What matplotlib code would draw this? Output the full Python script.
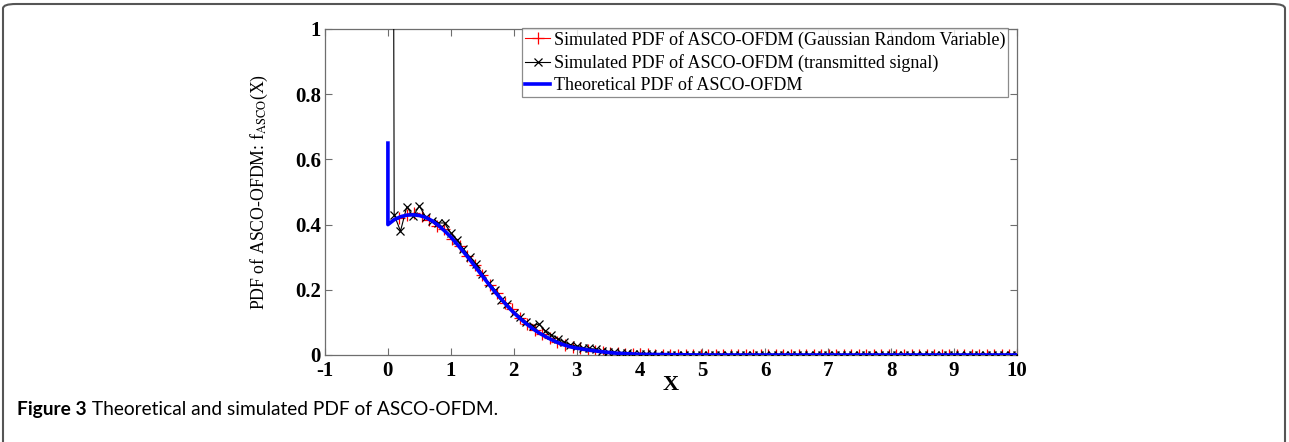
import numpy as np
import matplotlib
matplotlib.use("Agg")
import matplotlib.pyplot as plt
from matplotlib.patches import FancyBboxPatch

# ---------------- data ----------------
# Theoretical PDF (blue): spike at x=0 then continuous part
theo_x = [0.0, 0.0, 0.1, 0.2, 0.3, 0.4, 0.5, 0.6, 0.7, 0.8, 0.9, 1.0, 1.1, 1.2, 1.3,
          1.4, 1.5, 1.6, 1.7, 1.8, 1.9, 2.0, 2.1, 2.2, 2.3, 2.4, 2.5, 2.6, 2.7, 2.8,
          2.9, 3.0, 3.2, 3.4, 3.6, 3.8, 4.0, 4.5, 5.0, 10.0]
theo_y = [0.65, 0.400, 0.415, 0.424, 0.429, 0.430, 0.428, 0.422, 0.412, 0.398, 0.381,
          0.362, 0.340, 0.317, 0.293, 0.268, 0.243, 0.218, 0.194, 0.172, 0.150, 0.130,
          0.112, 0.096, 0.081, 0.068, 0.057, 0.047, 0.038, 0.031, 0.025, 0.021, 0.015,
          0.010, 0.006, 0.004, 0.002, 0.001, 0.0, 0.0]

# Simulated PDF, Gaussian random variable (red +), bin centres 0.18 .. 10.0
red_x = np.linspace(0.18, 10.0, 83)
red_y = [0.420, 0.430, 0.435, 0.425, 0.415, 0.395, 0.385, 0.355, 0.335,
         0.305, 0.275, 0.245, 0.215, 0.190, 0.160, 0.140, 0.115, 0.095, 0.078,
         0.064, 0.052, 0.041, 0.032, 0.026, 0.020, 0.016, 0.012, 0.009, 0.007,
         0.005, 0.004, 0.003, 0.002, 0.002, 0.001, 0.001, 0.001, 0.001, 0.0,
         0.0, 0.0, 0.0, 0.0, 0.0, 0.0, 0.0, 0.0, 0.0, 0.0,
         0.0, 0.0, 0.0, 0.0, 0.0, 0.0, 0.0, 0.0, 0.0, 0.0,
         0.0, 0.0, 0.0, 0.0, 0.0, 0.0, 0.0, 0.0, 0.0, 0.0,
         0.0, 0.0, 0.0, 0.0, 0.0, 0.0, 0.0, 0.0, 0.0, 0.0,
         0.0, 0.0, 0.0, 0.0]

# Simulated PDF, transmitted signal (black x): spike, then bins 0.1 .. 10.0
blk_spike_x = [0.085]
blk_spike_y = [1.6]
blk_x = np.linspace(0.1, 10.0, 100)
blk_y = [0.430, 0.380, 0.455, 0.426, 0.457, 0.424, 0.410, 0.405, 0.405, 0.374,
         0.353, 0.325, 0.300, 0.279, 0.250, 0.222, 0.200, 0.170, 0.155, 0.130,
         0.118, 0.100, 0.090, 0.095, 0.075, 0.062, 0.050, 0.040, 0.032, 0.027,
         0.022, 0.020, 0.018, 0.012, 0.010, 0.008, 0.006, 0.005, 0.004, 0.003,
         0.002, 0.002, 0.001, 0.001, 0.001, 0.001, 0.0, 0.0, 0.0, 0.0,
         0.0, 0.0, 0.0, 0.0, 0.0, 0.0, 0.0, 0.0, 0.0, 0.0,
         0.0, 0.0, 0.0, 0.0, 0.0, 0.0, 0.0, 0.0, 0.0, 0.0,
         0.0, 0.0, 0.0, 0.0, 0.0, 0.0, 0.0, 0.0, 0.0, 0.0,
         0.0, 0.0, 0.0, 0.0, 0.0, 0.0, 0.0, 0.0, 0.0, 0.0,
         0.0, 0.0, 0.0, 0.0, 0.0, 0.0, 0.0, 0.0, 0.0, 0.0]

x_ticks = [-1, 0, 1, 2, 3, 4, 5, 6, 7, 8, 9, 10]
y_ticks = [0, 0.2, 0.4, 0.6, 0.8, 1]
y_tick_labels = ["0", "0.2", "0.4", "0.6", "0.8", "1"]

leg_labels = ["Simulated PDF of ASCO-OFDM (Gaussian Random Variable)",
              "Simulated PDF of ASCO-OFDM (transmitted signal)",
              "Theoretical PDF of ASCO-OFDM"]
caption_bold = "Figure 3"
caption_rest = " Theoretical and simulated PDF of ASCO-OFDM."

# ---------------- figure ----------------
plt.rcParams['font.family'] = ['Liberation Serif', 'DejaVu Serif']
plt.rcParams['mathtext.fontset'] = 'stix'

W, H = 1289, 442
fig = plt.figure(figsize=(W / 100, H / 100), dpi=100)

# outer rounded frame
frame = FancyBboxPatch((3 / W, -0.2), (1282 / W), 1.2 - 4 / H,
                       boxstyle="round,pad=0,rounding_size=0.01",
                       transform=fig.transFigure, fill=False,
                       edgecolor="#555555", linewidth=1.5, clip_on=False)
fig.patches.append(frame)

ax_l, ax_r, ax_t, ax_b = 325, 1017, 29, 355
ax = fig.add_axes([ax_l / W, 1 - ax_b / H, (ax_r - ax_l) / W, (ax_b - ax_t) / H])

gray = "#6e6e6e"
l_red, = ax.plot(red_x, red_y, color="red", linewidth=0.8, marker="+",
                 markersize=9, markeredgewidth=0.9,
                 label=leg_labels[0], zorder=2)
ax.plot(blk_spike_x + [blk_x[0]], blk_spike_y + [blk_y[0]], color="black",
        linewidth=0.8, zorder=3)
l_blk, = ax.plot(blk_x, blk_y, color="black", linewidth=0.8, marker="x",
                 markersize=6, markeredgewidth=0.9, label=leg_labels[1], zorder=3)
l_blu, = ax.plot(theo_x, theo_y, color="#0000ff", linewidth=2.6,
                 label=leg_labels[2], zorder=4)

ax.set_xlim(-1, 10)
ax.set_ylim(0, 1)
ax.set_xticks(x_ticks)
ax.set_xticklabels([str(t) for t in x_ticks])
ax.set_yticks(y_ticks)
ax.set_yticklabels(y_tick_labels)
for lab in ax.get_xticklabels() + ax.get_yticklabels():
    lab.set_fontweight("bold")
    lab.set_fontsize(15)
ax.tick_params(direction="in", length=5, width=0.8, color=gray,
               top=True, right=True)
ax.tick_params(axis="x", pad=4)
ax.tick_params(axis="y", pad=3)
for s in ax.spines.values():
    s.set_color(gray)
    s.set_linewidth(0.9)

ax.set_xlabel("X", fontsize=16, fontweight="bold", labelpad=-4)
ax.set_ylabel(r"PDF of ASCO-OFDM: f$_{\rm ASCO}$(X)", fontsize=12.8, labelpad=18)

leg = ax.legend(handles=[l_red, l_blk, l_blu], loc="upper right",
                bbox_to_anchor=(1008 / W, 1 - 28 / H), bbox_transform=fig.transFigure,
                fontsize=13, frameon=True, fancybox=False, handlelength=1.4,
                handletextpad=0.2, borderpad=0.15, labelspacing=0.3,
                borderaxespad=0)
leg.get_frame().set_edgecolor(gray)
leg.get_frame().set_linewidth(0.9)

# caption
t1 = fig.text(17 / W, 1 - 415 / H, caption_bold, fontsize=13.8, fontweight="bold",
              family=["Lato", "DejaVu Sans"], va="baseline", ha="left")
fig.canvas.draw()
bb = t1.get_window_extent()
fig.text(bb.x1 / W, 1 - 415 / H, caption_rest, fontsize=13.8,
         family=["Lato", "DejaVu Sans"], va="baseline", ha="left")

fig.savefig("out.png", dpi=100)
